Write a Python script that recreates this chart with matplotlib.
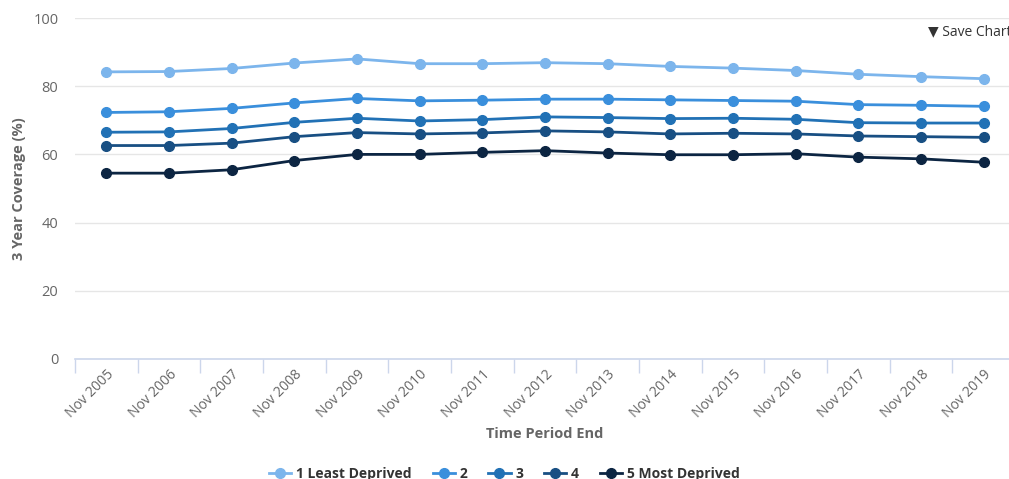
import matplotlib
matplotlib.use("Agg")
import matplotlib.pyplot as plt
from matplotlib.ticker import FixedLocator

plt.rcParams['font.family'] = ['Open Sans', 'DejaVu Sans']

periodos = ["Nov 2005", "Nov 2006", "Nov 2007", "Nov 2008", "Nov 2009",
            "Nov 2010", "Nov 2011", "Nov 2012", "Nov 2013", "Nov 2014",
            "Nov 2015", "Nov 2016", "Nov 2017", "Nov 2018", "Nov 2019"]

q1 = [84.2, 84.3, 85.2, 86.8, 88.0, 86.6, 86.6, 86.9, 86.6, 85.8, 85.3, 84.6, 83.5, 82.8, 82.2]
q2 = [72.3, 72.5, 73.5, 75.1, 76.4, 75.7, 75.9, 76.2, 76.2, 76.0, 75.8, 75.6, 74.6, 74.4, 74.1]
q3 = [66.5, 66.6, 67.6, 69.4, 70.6, 69.8, 70.2, 71.0, 70.8, 70.5, 70.6, 70.3, 69.3, 69.2, 69.2]
q4 = [62.6, 62.6, 63.3, 65.2, 66.4, 66.0, 66.3, 66.9, 66.6, 66.0, 66.2, 66.0, 65.4, 65.2, 65.0]
q5 = [54.5, 54.5, 55.5, 58.2, 60.0, 60.0, 60.6, 61.1, 60.4, 59.9, 59.9, 60.2, 59.2, 58.7, 57.7]

nomes = ["1 Least Deprived", "2", "3", "4", "5 Most Deprived"]
cores = ["#7cb5ec", "#3a8fdc", "#2171b5", "#184f83", "#0c2542"]

fig = plt.figure(figsize=(10.09, 4.79), dpi=100)
ax = fig.add_axes([75 / 1009, 1 - 359 / 479, (1015 - 75) / 1009, (359 - 18) / 479])

x = list(range(len(periodos)))
for serie, nome, cor in zip([q1, q2, q3, q4, q5], nomes, cores):
    ax.plot(x, serie, color=cor, lw=2, marker="o", markersize=7, label=nome, zorder=3)

ax.set_xlim(-0.5, len(periodos) - 0.5)
ax.set_ylim(0, 100)
ax.set_yticks([0, 20, 40, 60, 80, 100])
ax.grid(axis="y", color="#e6e6e6", lw=1)
ax.set_axisbelow(True)
for s in ["top", "right", "left"]:
    ax.spines[s].set_visible(False)
ax.spines["bottom"].set_color("#ccd6eb")
ax.spines["bottom"].set_linewidth(1.2)

ax.set_xticks(x)
ax.set_xticklabels(periodos, rotation=45, ha="right", rotation_mode="anchor",
                   fontsize=10, color="#666666")
ax.tick_params(axis="x", length=0, pad=6)
ax.xaxis.set_minor_locator(FixedLocator([i - 0.5 for i in range(len(periodos) + 1)]))
ax.tick_params(axis="x", which="minor", length=10, color="#ccd6eb", width=1)
ax.tick_params(axis="y", length=0, labelsize=10.5, labelcolor="#666666", pad=12)

ax.set_xlabel("Time Period End", fontsize=10.5, fontweight="bold", color="#666666", labelpad=4)
ax.set_ylabel("3 Year Coverage (%)", fontsize=10.5, fontweight="bold", color="#666666", labelpad=5)

fig.legend(loc="lower center", bbox_to_anchor=(0.5, -0.03), ncol=5, frameon=False,
           labelcolor="#333333", handlelength=1.6, columnspacing=1.5,
           handletextpad=0.35, prop={"weight": "bold", "size": 10})

fig.text(928 / 1009, 1 - 32 / 479, "▼ Save Chart", fontsize=10, color="#333333",
         va="center", ha="left", family=["Open Sans", "DejaVu Sans"])

fig.savefig("out.png", dpi=100)
